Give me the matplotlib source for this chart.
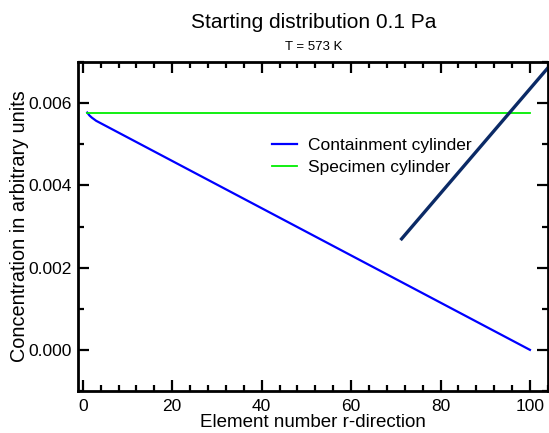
import matplotlib
matplotlib.use("Agg")
import matplotlib.pyplot as plt
from matplotlib.ticker import MultipleLocator, FormatStrFormatter

plt.rcParams['font.family'] = ['Liberation Sans', 'DejaVu Sans']

# Concentration profiles along the radial element index
containment_x = [1, 1.5, 2, 2.5, 3, 100]
containment_y = [0.00577, 0.00570, 0.00565, 0.00561, 0.00557, 0.0]

specimen_x = [1, 100]
specimen_y = [0.00577, 0.00577]

# Straight guide line drawn across the plot
guide_x = [71.3, 106.0]
guide_y = [0.0027, 0.00711]

title = "Starting distribution 0.1 Pa"
subtitle = "T = 573 K"

fig = plt.figure(figsize=(5.49, 4.33), dpi=100)
ax = fig.add_axes([0.1426, 0.097, 0.8561, 0.7598])

ax.plot(containment_x, containment_y, color='#0000ff', lw=1.6, label='Containment cylinder')
ax.plot(specimen_x, specimen_y, color='#00ee00', lw=1.3, label='Specimen cylinder')
ax.plot(guide_x, guide_y, color='#0b2a66', lw=2.4)

ax.set_xlim(-1, 104.1)
ax.set_ylim(-0.001, 0.007)

ax.xaxis.set_major_locator(MultipleLocator(20))
ax.xaxis.set_minor_locator(MultipleLocator(4))
ax.yaxis.set_major_locator(MultipleLocator(0.002))
ax.yaxis.set_minor_locator(MultipleLocator(0.001))
ax.yaxis.set_major_formatter(FormatStrFormatter('%.3f'))

ax.tick_params(which='both', direction='in', top=True, right=True, width=1.6, labelsize=12.5)
ax.tick_params(which='major', length=8)
ax.tick_params(which='minor', length=4)
ax.tick_params(axis='x', pad=6)
ax.tick_params(axis='y', pad=5)
for s in ax.spines.values():
    s.set_linewidth(2)

ax.set_xlabel("Element number r-direction", fontsize=13.5, labelpad=0)
ax.set_ylabel("Concentration in arbitrary units", fontsize=14.3)
ax.yaxis.set_label_coords(-0.105, 0.5)

fig.text(0.5706, 1 - 23 / 433, title, ha='center', va='center', fontsize=15)
fig.text(0.5706, 1 - 47 / 433, subtitle, ha='center', va='center', fontsize=9.5)

leg = ax.legend(loc='center left', bbox_to_anchor=(0.412, 0.714), frameon=False,
                fontsize=12.5, handlelength=1.45, handletextpad=0.63, labelspacing=0.4,
                borderaxespad=0, borderpad=0)

fig.savefig("out.png", dpi=100)
